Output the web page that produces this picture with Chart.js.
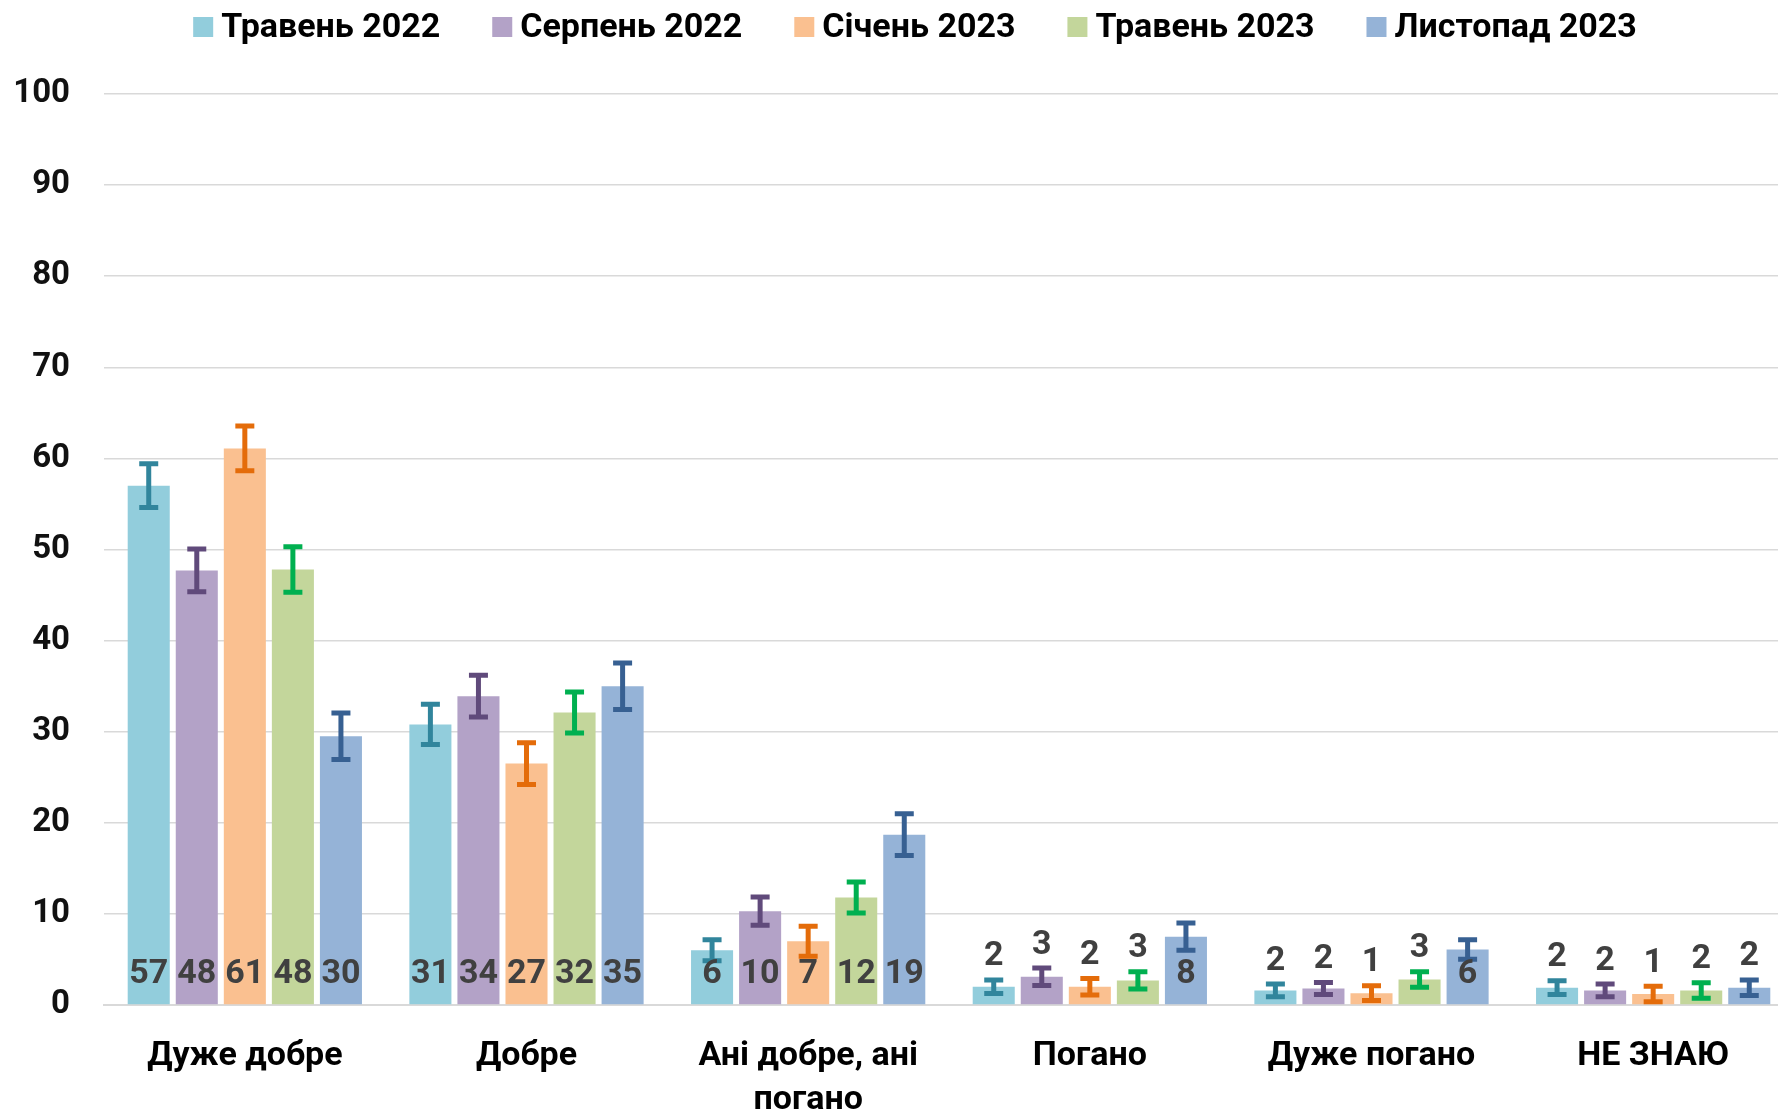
<!DOCTYPE html>
<html>
<head>
<meta charset="utf-8">
<script src="https://cdn.jsdelivr.net/npm/chart.js@4.4.0/dist/chart.umd.min.js"></script>
<style>
  html, body { margin: 0; padding: 0; background: #fff; overflow: hidden; }
  #wrap { width: 1778px; height: 1111px; overflow: hidden; }
</style>
</head>
<body>
<div id="wrap"><canvas id="barchart" width="1794" height="1111"></canvas></div>
<script>
const categories = ['Дуже добре', 'Добре', ['Ані добре, ані', 'погано'], 'Погано', 'Дуже погано', 'НЕ ЗНАЮ'];
const seriesNames = ['Травень 2022', 'Серпень 2022', 'Січень 2023', 'Травень 2023', 'Листопад 2023'];

const may2022 = [57.0, 30.8, 6.0, 2.0, 1.6, 1.9];
const aug2022 = [47.7, 33.9, 10.3, 3.1, 1.8, 1.6];
const jan2023 = [61.1, 26.5, 7.0, 2.0, 1.3, 1.2];
const may2023 = [47.8, 32.1, 11.8, 2.7, 2.8, 1.6];
const nov2023 = [29.5, 35.0, 18.7, 7.5, 6.1, 1.9];

// error bar half widths (+/-)
const errMay2022 = [2.4, 2.2, 1.15, 0.75, 0.7, 0.75];
const errAug2022 = [2.35, 2.3, 1.55, 0.95, 0.66, 0.7];
const errJan2023 = [2.45, 2.3, 1.65, 0.9, 0.8, 0.85];
const errMay2023 = [2.5, 2.25, 1.7, 0.95, 0.85, 0.85];
const errNov2023 = [2.55, 2.55, 2.3, 1.5, 1.07, 0.85];

const yTicks = [0, 10, 20, 30, 40, 50, 60, 70, 80, 90, 100];

const fillColors = ['#92CDDC', '#B3A2C7', '#FAC090', '#C3D69B', '#95B3D7'];
const errColors = ['#31859C', '#604A7B', '#E46C0A', '#00B050', '#376092'];

const values = [may2022, aug2022, jan2023, may2023, nov2023];
const errors = [errMay2022, errAug2022, errJan2023, errMay2023, errNov2023];

const FONT = 'Roboto';

const errorBars = {
    id: 'errorBars',
    afterDatasetsDraw(chart) {
        const ctx = chart.ctx;
        const y = chart.scales.y;
        chart.data.datasets.forEach((ds, i) => {
            const meta = chart.getDatasetMeta(i);
            meta.data.forEach((bar, j) => {
                const v = ds.data[j], e = errors[i][j];
                const top = y.getPixelForValue(v + e);
                const bot = y.getPixelForValue(v - e);
                ctx.save();
                ctx.strokeStyle = errColors[i];
                ctx.lineWidth = 5;
                ctx.lineCap = 'butt';
                ctx.beginPath();
                ctx.moveTo(bar.x, top);
                ctx.lineTo(bar.x, bot);
                ctx.moveTo(bar.x - 9.5, top);
                ctx.lineTo(bar.x + 9.5, top);
                ctx.moveTo(bar.x - 9.5, bot);
                ctx.lineTo(bar.x + 9.5, bot);
                ctx.stroke();
                ctx.restore();
            });
        });
        // value labels
        ctx.save();
        ctx.font = 'bold 34px ' + FONT;
        ctx.fillStyle = '#404040';
        ctx.textAlign = 'center';
        ctx.textBaseline = 'middle';
        chart.data.datasets.forEach((ds, i) => {
            const meta = chart.getDatasetMeta(i);
            meta.data.forEach((bar, j) => {
                const v = ds.data[j];
                let ly;
                if (v >= 5) {
                    ly = y.getPixelForValue(0) - 31;
                } else {
                    ly = y.getPixelForValue(v + errors[i][j]) - 23;
                }
                ctx.fillText(String(Math.round(v)), bar.x, ly);
            });
        });
        ctx.restore();
    }
};

const topLegend = {
    id: 'topLegend',
    afterDraw(chart) {
        const ctx = chart.ctx;
        ctx.save();
        ctx.font = 'bold 34px ' + FONT;
        ctx.textBaseline = 'middle';
        ctx.textAlign = 'left';
        const box = 20, gap = 8, spacing = 52;
        const widths = chart.data.datasets.map(d => ctx.measureText(d.label).width);
        let total = 0;
        widths.forEach((w, i) => { total += box + gap + w + (i ? spacing : 0); });
        let x = 915 - total / 2;
        const cy = 27;
        chart.data.datasets.forEach((d, i) => {
            ctx.fillStyle = d.backgroundColor;
            ctx.fillRect(x, cy - box / 2, box, box);
            ctx.fillStyle = '#000';
            ctx.fillText(d.label, x + box + gap, cy + 1);
            x += box + gap + widths[i] + spacing;
        });
        ctx.restore();
    }
};

const ctx = document.getElementById('barchart').getContext('2d');
const barchart = new Chart(ctx, {
    type: 'bar',
    data: {
        labels: categories,
        datasets: seriesNames.map((name, i) => ({
            label: name,
            data: values[i],
            backgroundColor: fillColors[i],
            borderWidth: 0,
            barPercentage: 0.875,
            categoryPercentage: 0.853
        }))
    },
    options: {
        responsive: false,
        animation: false,
        devicePixelRatio: 1,
        layout: { padding: { top: 94, right: 0, left: 0, bottom: 0 } },
        plugins: {
            legend: { display: false },
            tooltip: { enabled: false }
        },
        scales: {
            x: {
                grid: { display: false, drawTicks: false },
                border: { display: true, color: '#D9D9D9', width: 2 },
                ticks: {
                    color: '#000',
                    padding: 29,
                    maxRotation: 0,
                    autoSkip: false,
                    font: { family: FONT, size: 34, weight: 'bold', lineHeight: 1.3 }
                },
                afterFit(scale) { scale.height = 106; }
            },
            y: {
                min: 0,
                max: 100,
                afterBuildTicks(scale) { scale.ticks = yTicks.map(v => ({ value: v })); },
                grid: { color: '#D9D9D9', lineWidth: 1.5, drawTicks: false },
                border: { display: false },
                ticks: {
                    color: '#111',
                    padding: 34,
                    font: { family: FONT, size: 33, weight: 'bold' }
                },
                afterFit(scale) { scale.width = 104; }
            }
        }
    },
    plugins: [errorBars, topLegend]
});
</script>
</body>
</html>
